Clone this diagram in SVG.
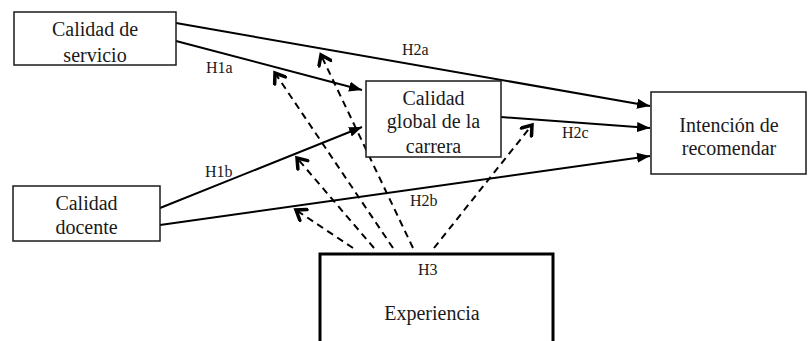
<svg xmlns="http://www.w3.org/2000/svg" width="810" height="341" viewBox="0 0 810 341">
<style>
.box{fill:#fff;stroke:#1a1a1a;stroke-width:1.5}
.thick{fill:#fff;stroke:#000;stroke-width:3}
text{font-family:'Liberation Serif','Times New Roman',serif;fill:#1a1a1a}
.t{font-size:20px;text-anchor:middle}
.lbl{font-size:16px}
.solid{fill:none;stroke:#000;stroke-width:2;marker-end:url(#tri)}
.dash{fill:none;stroke:#000;stroke-width:2;stroke-dasharray:7 5;marker-end:url(#chev)}
</style>
<defs>
<marker id="tri" markerUnits="userSpaceOnUse" markerWidth="14" markerHeight="12" refX="13" refY="5" orient="auto" viewBox="0 0 14 10">
<path d="M0,0 L13,5 L0,10 Z" fill="#000"/>
</marker>
<marker id="chev" markerUnits="userSpaceOnUse" markerWidth="16" markerHeight="16" refX="12" refY="8" orient="auto" viewBox="0 0 16 16">
<path d="M3,1.5 L12,8 L3,14.5" fill="none" stroke="#000" stroke-width="3.5" stroke-linecap="round" stroke-linejoin="miter"/>
</marker>
<clipPath id="c1"><rect x="14" y="12" width="162" height="50"/></clipPath>
<clipPath id="c2"><rect x="366" y="81" width="135" height="72.5"/></clipPath>
</defs>
<g id="connectors">
<line class="solid" x1="176" y1="23" x2="650" y2="106"/>
<line class="solid" x1="176" y1="41" x2="362" y2="90"/>
<line class="solid" x1="501" y1="117" x2="650" y2="128"/>
<line class="solid" x1="160" y1="208" x2="362" y2="127"/>
<line class="solid" x1="160" y1="225" x2="650" y2="156"/>
<line class="dash" x1="353" y1="248" x2="296" y2="210"/>
<line class="dash" x1="374" y1="248" x2="297" y2="158"/>
<line class="dash" x1="393" y1="248" x2="275" y2="73"/>
<line class="dash" x1="413" y1="248" x2="321" y2="55"/>
<line class="dash" x1="434" y1="248" x2="532" y2="125"/>
<text class="lbl" x="402" y="55">H2a</text>
<text class="lbl" x="206" y="73">H1a</text>
<text class="lbl" x="205" y="177">H1b</text>
<text class="lbl" x="562" y="138">H2c</text>
<text class="lbl" x="410" y="206">H2b</text>
</g>
<g id="calidad-servicio">
<rect class="box" x="14" y="12" width="162" height="53"/>
<g clip-path="url(#c1)">
<text class="t" x="95" y="36">Calidad de</text>
<text class="t" x="95" y="62">servicio</text>
</g>
</g>
<g id="calidad-global">
<rect class="box" x="366" y="81" width="135" height="76"/>
<g clip-path="url(#c2)">
<text class="t" x="433.5" y="105">Calidad</text>
<text class="t" x="433.5" y="128">global de la</text>
<text class="t" x="433.5" y="153">carrera</text>
</g>
</g>
<g id="intencion">
<rect class="box" x="651" y="92" width="155" height="82"/>
<text class="t" x="729" y="132">Intención de</text>
<text class="t" x="729" y="155">recomendar</text>
</g>
<g id="calidad-docente">
<rect class="box" x="13" y="186" width="147" height="55"/>
<text class="t" x="86.5" y="210">Calidad</text>
<text class="t" x="86.5" y="234">docente</text>
</g>
<g id="experiencia">
<rect class="thick" x="320" y="254" width="233" height="100"/>
<text class="lbl" x="418" y="275">H3</text>
<text class="t" x="432" y="320">Experiencia</text>
</g>
</svg>
